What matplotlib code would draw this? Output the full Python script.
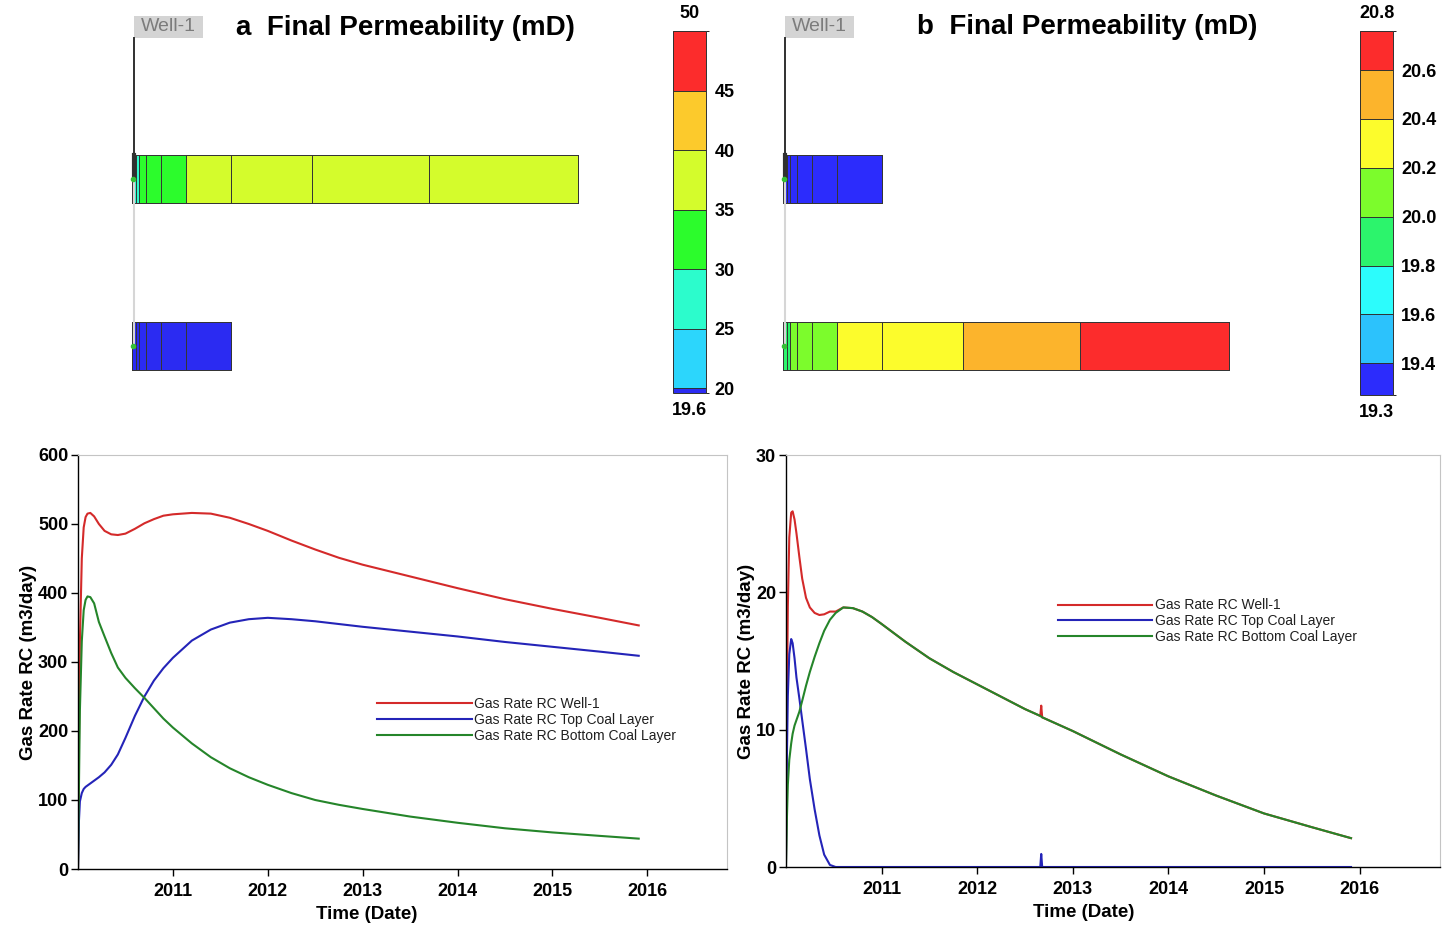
import numpy as np
import matplotlib
matplotlib.use('Agg')
import matplotlib.pyplot as plt
from matplotlib.colors import ListedColormap, BoundaryNorm
from matplotlib.cm import ScalarMappable
from matplotlib.patches import Rectangle

plt.rcParams['font.family'] = ['Liberation Sans', 'DejaVu Sans']

# ---------------- schematic (final permeability) ----------------
# radial cell edges away from the well (m), same grid for both layers
cell_edges = [0, 0.34, 0.70, 1.40, 2.84, 5.34, 9.84, 18.0, 29.67, 44.6]
layer_top = [10.0, 27.4]   # top depth of top / bottom coal layer
layer_thick = 5.0
well_top = -2.2

perm_a_top = [26, 28, 31, 33, 34, 36, 37, 38, 39]
perm_a_bot = [19.8, 19.8, 19.8, 19.8, 19.8, 19.8]
perm_b_top = [19.33, 19.33, 19.33, 19.33, 19.33, 19.33]
perm_b_bot = [19.9, 19.95, 20.05, 20.1, 20.15, 20.25, 20.35, 20.5, 20.7]

levels_a = [19.6, 20, 25, 30, 35, 40, 45, 50]
colors_a = ['#2b2bf2', '#2cd6fc', '#2cfccc', '#2cfc2c', '#d4fc2c', '#fcca2c', '#fc2c2c']
ticks_a = [20, 25, 30, 35, 40, 45]
ends_a = ['50', '19.6']

levels_b = [19.27, 19.4, 19.6, 19.8, 20.0, 20.2, 20.4, 20.6, 20.76]
colors_b = ['#2c2cfc', '#2cc2fc', '#2cfcfc', '#2cf46c', '#7cfc2c', '#fcfc2c', '#fcb42c', '#fc2c2c']
ticks_b = [19.4, 19.6, 19.8, 20.0, 20.2, 20.4, 20.6]
ends_b = ['20.8', '19.3']

# ---------------- gas rate curves ----------------
year_ticks = [2011, 2012, 2013, 2014, 2015, 2016]
labels = ['Gas Rate RC Well-1', 'Gas Rate RC Top Coal Layer', 'Gas Rate RC Bottom Coal Layer']

t_a = [2010.00, 2010.01, 2010.02, 2010.04, 2010.06, 2010.08, 2010.10, 2010.13, 2010.17,
       2010.22, 2010.28, 2010.35, 2010.42, 2010.50, 2010.60, 2010.70, 2010.80, 2010.90,
       2011.00, 2011.20, 2011.40, 2011.60, 2011.80, 2012.00, 2012.25, 2012.50, 2012.75,
       2013.00, 2013.50, 2014.00, 2014.50, 2015.00, 2015.50, 2015.91]
well_a = [0, 180, 330, 450, 495, 510, 515, 516, 511,
          500, 490, 485, 484, 486, 493, 501, 507, 512,
          514, 516, 515, 509, 500, 490, 476, 463, 451,
          441, 424, 407, 391, 377, 364, 353]
top_a = [0, 70, 98, 110, 116, 119, 121, 124, 128,
         133, 140, 151, 166, 190, 222, 250, 273, 291,
         306, 331, 347, 357, 362, 364, 362, 359, 355,
         351, 344, 337, 329, 322, 315, 309]
bot_a = [0, 120, 230, 330, 375, 390, 395, 394, 385,
         358, 337, 313, 292, 277, 262, 248, 233, 218,
         205, 182, 162, 146, 133, 122, 110, 100, 93,
         87, 76, 67, 59, 53, 48, 44]

t_b = [2010.00, 2010.01, 2010.02, 2010.035, 2010.055, 2010.07, 2010.09, 2010.11, 2010.14,
       2010.17, 2010.21, 2010.25, 2010.30, 2010.35, 2010.40, 2010.46, 2010.52, 2010.60,
       2010.70, 2010.80, 2010.90, 2011.00, 2011.25, 2011.50, 2011.75, 2012.00, 2012.25,
       2012.50, 2012.66, 2012.67, 2012.68, 2013.00, 2013.50, 2014.00, 2014.50, 2015.00,
       2015.50, 2015.91]
well_b = [0, 12, 19, 24, 25.8, 25.9, 25.3, 24.3, 22.6,
          21.0, 19.6, 18.9, 18.5, 18.35, 18.4, 18.6, 18.6, 18.9,
          18.85, 18.6, 18.2, 17.7, 16.4, 15.2, 14.2, 13.3, 12.4,
          11.5, 11.0, 11.75, 10.9, 9.9, 8.2, 6.6, 5.2, 3.9,
          2.9, 2.1]
top_b = [0, 8.0, 12.5, 15.5, 16.6, 16.3, 15.2, 13.8, 12.3,
         10.7, 8.6, 6.4, 4.2, 2.3, 0.9, 0.15, 0.0, 0.0,
         0.0, 0.0, 0.0, 0.0, 0.0, 0.0, 0.0, 0.0, 0.0,
         0.0, 0.0, 0.95, 0.0, 0.0, 0.0, 0.0, 0.0, 0.0,
         0.0, 0.0]
bot_b = [0, 3.5, 6.0, 7.8, 9.0, 9.7, 10.3, 10.7, 11.3,
         12.1, 13.2, 14.2, 15.3, 16.3, 17.2, 18.0, 18.5, 18.9,
         18.85, 18.6, 18.2, 17.7, 16.4, 15.2, 14.2, 13.3, 12.4,
         11.5, 11.0, 10.95, 10.9, 9.9, 8.2, 6.6, 5.2, 3.9,
         2.9, 2.1]

line_colors = ['#d42a2a', '#2424b8', '#25852a']

fig = plt.figure(figsize=(14.45, 9.25), dpi=100)


def draw_schematic(ax, top_vals, bot_vals, cmap, norm):
    for vals, ztop in zip([top_vals, bot_vals], layer_top):
        x = cell_edges[:len(vals) + 1]
        ax.pcolormesh(x, [ztop, ztop + layer_thick], [vals], cmap=cmap, norm=norm,
                      edgecolors='#353535', linewidth=0.55)
    mid_top = layer_top[0] + layer_thick / 2
    mid_bot = layer_top[1] + layer_thick / 2
    ax.plot([0.15, 0.15], [mid_top, mid_bot], color='#d6d6d6', lw=1.5)
    ax.plot([0.15, 0.15], [well_top, mid_top], color='#303030', lw=1.4)
    ax.plot([0.15, 0.15], [layer_top[0], mid_top], color='#303030', lw=3.0)
    ax.plot([0.1, 0.1], [mid_top, mid_bot], 'o', color='#35c035', ms=3)
    ax.add_patch(Rectangle((0.17, well_top - 2.3), 6.9, 2.3, fc='#d4d4d4', ec='none'))
    ax.text(0.17 + 3.45, well_top - 1.15, 'Well-1', fontsize=14, color='#7c7c7c',
            ha='center', va='center')
    ax.set_ylim(35.52, -5.1)
    ax.axis('off')


def draw_colorbar(cax, levels, colors, ticks, ends):
    cmap = ListedColormap(colors)
    norm = BoundaryNorm(levels, cmap.N)
    cb = fig.colorbar(ScalarMappable(norm=norm, cmap=cmap), cax=cax, drawedges=True,
                      spacing='proportional', ticks=ticks)
    cb.outline.set_edgecolor('#303030')
    cb.outline.set_linewidth(0.7)
    cb.dividers.set_color('#303030')
    cb.dividers.set_linewidth(0.7)
    cax.tick_params(length=0, labelsize=13, pad=6)
    for lab in cax.get_yticklabels():
        lab.set_fontweight('bold')
    cax.text(0.5, 1.025, ends[0], transform=cax.transAxes, ha='center', va='bottom',
             fontsize=13, fontweight='bold')
    cax.text(0.5, -0.025, ends[1], transform=cax.transAxes, ha='center', va='top',
             fontsize=13, fontweight='bold')
    return cmap, norm


cax_a = fig.add_axes([0.4657, 0.5751, 0.02284, 0.3914])
cmap_a, norm_a = draw_colorbar(cax_a, levels_a, colors_a, ticks_a, ends_a)
cax_b = fig.add_axes([0.9412, 0.5730, 0.02284, 0.3935])
cmap_b, norm_b = draw_colorbar(cax_b, levels_b, colors_b, ticks_b, ends_b)

ax_sa = fig.add_axes([0.08304, 0.5676, 0.3322, 0.4216])
draw_schematic(ax_sa, perm_a_top, perm_a_bot, cmap_a, norm_a)
ax_sa.set_xlim(-1.23, 46.77)
ax_sb = fig.add_axes([0.53287, 0.5676, 0.3322, 0.4216])
draw_schematic(ax_sb, perm_b_top, perm_b_bot, cmap_b, norm_b)
ax_sb.set_xlim(-1.33, 46.67)

fig.text(236 / 1445, 0.970, 'a  Final Permeability (mD)', fontsize=20, fontweight='bold',
         ha='left', va='center')
fig.text(917 / 1445, 0.971, 'b  Final Permeability (mD)', fontsize=20, fontweight='bold',
         ha='left', va='center')


def draw_rates(ax, t, series, ymax, yticks, leg_anchor, xlab_x):
    for vals, c, lab in zip(series, line_colors, labels):
        ax.plot(t, vals, color=c, lw=1.5, label=lab)
    ax.set_xlim(2010.0, 2016.84)
    ax.set_ylim(0, ymax)
    ax.set_xticks(year_ticks)
    ax.set_xticklabels([str(y) for y in year_ticks])
    ax.set_yticks(yticks)
    ax.tick_params(direction='out', length=5, width=1, labelsize=13, colors='black')
    ax.tick_params(axis='y', pad=2)
    ax.tick_params(axis='x', pad=5)
    for lab in ax.get_xticklabels() + ax.get_yticklabels():
        lab.set_fontweight('bold')
    for side in ['top', 'right']:
        ax.spines[side].set_color('#c4c4c4')
    for side in ['left', 'bottom']:
        ax.spines[side].set_color('black')
        ax.spines[side].set_linewidth(1.0)
    ax.set_xlabel('Time (Date)', fontsize=13.5, fontweight='bold', va='center')
    ax.xaxis.set_label_coords(xlab_x, -0.111)
    ax.set_ylabel('Gas Rate RC (m3/day)', fontsize=13.5, fontweight='bold', labelpad=1)
    leg = ax.legend(loc='upper left', bbox_to_anchor=leg_anchor, frameon=False, fontsize=10,
                    handlelength=6.8, handletextpad=0.15, labelspacing=0.12,
                    borderpad=0, borderaxespad=0)
    for txt in leg.get_texts():
        txt.set_color('#202020')


ax_a = fig.add_axes([0.05398, 0.06054, 0.4491, 0.4476])
draw_rates(ax_a, t_a, [well_a, top_a, bot_a], 600, [0, 100, 200, 300, 400, 500, 600],
           (0.461, 0.415), 0.445)

ax_b = fig.add_axes([0.5439, 0.0627, 0.4526, 0.4454])
draw_rates(ax_b, t_b, [well_b, top_b, bot_b], 30, [0, 10, 20, 30], (0.416, 0.652), 0.456)

fig.savefig('out.png', dpi=100, facecolor='white')
